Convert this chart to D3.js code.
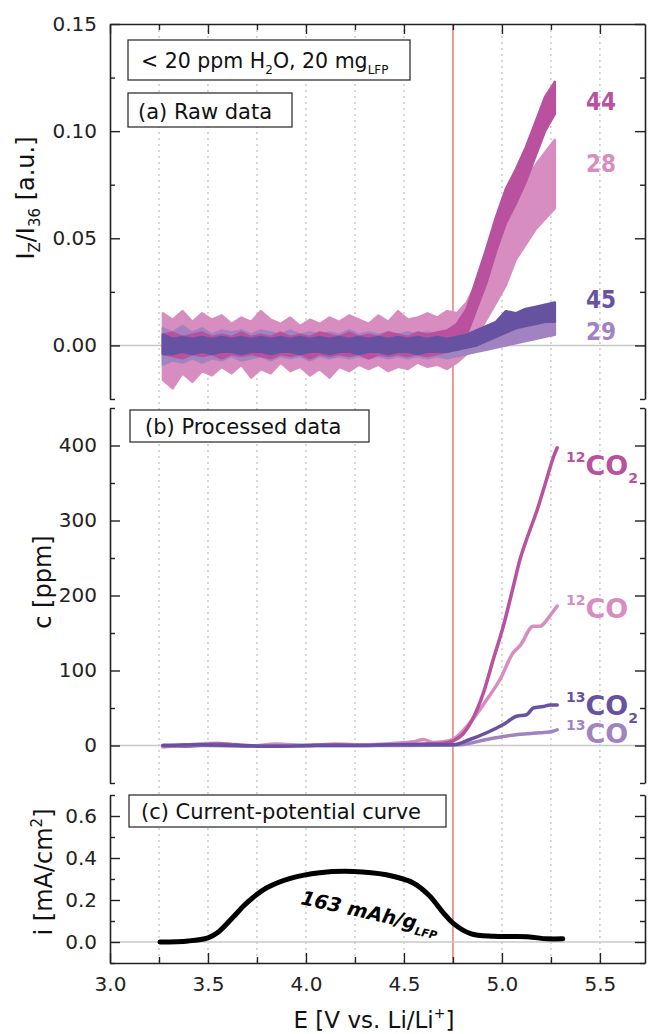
<!DOCTYPE html>
<html>
<head>
<meta charset="utf-8">
<script src="https://cdn.jsdelivr.net/npm/d3@7"></script>
<style>
body { margin: 0; background: #fff; }
svg { display: block; font-family: "DejaVu Sans", sans-serif; }
</style>
</head>
<body>
<div id="chart"></div>
<script>
//potential grid of the raw MS signals (V vs. Li/Li+)
var rawPotential = [3.27, 3.32, 3.37, 3.42, 3.47, 3.52, 3.57, 3.62, 3.67, 3.72, 3.77, 3.82, 3.87, 3.92, 3.97, 4.02, 4.07, 4.12, 4.17, 4.22,
    4.27, 4.32, 4.37, 4.42, 4.47, 4.52, 4.57, 4.62, 4.67, 4.72, 4.77, 4.82, 4.87, 4.92, 4.97, 5.02, 5.07, 5.12, 5.17, 5.22, 5.27];

//raw signal envelopes (upper / lower of the noisy trace), Iz/I36
var raw28Hi = [0.015, 0.012, 0.016, 0.011, 0.015, 0.012, 0.014, 0.010, 0.013, 0.011, 0.016, 0.012, 0.010, 0.013, 0.009, 0.012, 0.010, 0.013, 0.011, 0.014,
    0.012, 0.010, 0.014, 0.011, 0.016, 0.012, 0.013, 0.015, 0.013, 0.016, 0.015, 0.020, 0.029, 0.039, 0.050, 0.066, 0.072, 0.078, 0.084, 0.090, 0.096];
var raw28Lo = [-0.016, -0.020, -0.013, -0.017, -0.012, -0.014, -0.010, -0.013, -0.009, -0.015, -0.011, -0.013, -0.008, -0.012, -0.010, -0.014, -0.011, -0.015, -0.010, -0.012,
    -0.009, -0.011, -0.009, -0.012, -0.010, -0.011, -0.008, -0.010, -0.009, -0.011, -0.008, -0.004, 0.004, 0.012, 0.020, 0.028, 0.040, 0.047, 0.054, 0.059, 0.064];

var raw29Hi = [0.008, 0.006, 0.009, 0.006, 0.008, 0.005, 0.007, 0.006, 0.007, 0.005, 0.007, 0.006, 0.005, 0.007, 0.005, 0.006, 0.005, 0.006, 0.005, 0.007,
    0.005, 0.006, 0.005, 0.006, 0.005, 0.006, 0.005, 0.006, 0.005, 0.005, 0.004, 0.004, 0.005, 0.006, 0.007, 0.008, 0.008, 0.009, 0.010, 0.011, 0.012];
var raw29Lo = [-0.009, -0.007, -0.008, -0.006, -0.008, -0.006, -0.007, -0.005, -0.007, -0.006, -0.005, -0.007, -0.005, -0.006, -0.005, -0.007, -0.005, -0.006, -0.005, -0.006,
    -0.005, -0.006, -0.005, -0.006, -0.005, -0.006, -0.005, -0.006, -0.005, -0.006, -0.005, -0.004, -0.003, -0.002, -0.001, 0.000, 0.001, 0.002, 0.003, 0.004, 0.005];

var raw44Hi = [0.005, 0.006, 0.004, 0.005, 0.006, 0.004, 0.005, 0.004, 0.006, 0.004, 0.005, 0.004, 0.006, 0.004, 0.005, 0.004, 0.006, 0.005, 0.004, 0.006,
    0.004, 0.005, 0.004, 0.006, 0.005, 0.004, 0.006, 0.005, 0.006, 0.007, 0.010, 0.017, 0.031, 0.045, 0.060, 0.073, 0.082, 0.092, 0.104, 0.116, 0.123];
var raw44Lo = [-0.004, -0.005, -0.006, -0.004, -0.005, -0.004, -0.006, -0.004, -0.005, -0.004, -0.005, -0.006, -0.004, -0.005, -0.004, -0.006, -0.004, -0.005, -0.004, -0.005,
    -0.004, -0.006, -0.004, -0.005, -0.004, -0.005, -0.004, -0.005, -0.004, -0.003, -0.001, 0.005, 0.017, 0.029, 0.044, 0.057, 0.066, 0.076, 0.088, 0.100, 0.108];

var raw45Hi = [0.005, 0.003, 0.004, 0.003, 0.004, 0.003, 0.004, 0.003, 0.004, 0.003, 0.004, 0.003, 0.004, 0.003, 0.004, 0.003, 0.004, 0.003, 0.004, 0.003,
    0.004, 0.003, 0.004, 0.003, 0.004, 0.003, 0.004, 0.003, 0.004, 0.003, 0.004, 0.005, 0.007, 0.009, 0.011, 0.016, 0.015, 0.017, 0.018, 0.019, 0.020];
var raw45Lo = [-0.004, -0.004, -0.003, -0.004, -0.003, -0.004, -0.003, -0.003, -0.004, -0.003, -0.003, -0.004, -0.003, -0.003, -0.004, -0.003, -0.003, -0.004, -0.003, -0.003,
    -0.004, -0.003, -0.003, -0.004, -0.003, -0.003, -0.004, -0.003, -0.003, -0.003, -0.002, -0.001, 0.000, 0.002, 0.004, 0.006, 0.008, 0.009, 0.010, 0.011, 0.011];

//processed concentrations (ppm)
var co2_12E = [3.27, 3.40, 3.55, 3.70, 3.85, 4.00, 4.15, 4.30, 4.45, 4.60, 4.70, 4.75, 4.80, 4.85, 4.905, 4.956, 5.007, 5.058, 5.092, 5.126, 5.177, 5.228, 5.262, 5.282];
var co2_12C = [0, -1, 2, 0, -1, 0, 1, 0, 1, 2, 3, 6, 15, 35, 70, 115, 159, 212, 248, 275, 312, 355, 384, 397];
var co_12E = [3.27, 3.40, 3.55, 3.70, 3.85, 4.00, 4.15, 4.30, 4.45, 4.55, 4.60, 4.65, 4.70, 4.75, 4.836, 4.922, 4.99, 5.058, 5.092, 5.16, 5.194, 5.245, 5.282];
var co_12C = [-2, 1, 3, -1, 2, 0, 2, 1, 3, 5, 8, 4, 5, 8, 30, 61, 88, 124, 133, 159, 159, 173, 186];
var co2_13E = [3.27, 3.45, 3.65, 3.85, 4.05, 4.25, 4.45, 4.65, 4.751, 4.836, 4.922, 5.007, 5.075, 5.126, 5.16, 5.211, 5.245, 5.282];
var co2_13C = [0, 1, 0, -1, 0, 0, 1, 1, 1, 8, 17, 28, 39, 41, 50, 52, 54, 54];
var co_13E = [3.27, 3.50, 3.75, 4.00, 4.25, 4.50, 4.785, 4.922, 5.007, 5.092, 5.194, 5.262, 5.282];
var co_13C = [0, 0, -1, 0, 0, 0, 1, 8, 12, 15, 17, 19, 21];

//current-potential curve (mA/cm2)
var currentE = [3.255, 3.40, 3.50, 3.55, 3.63, 3.68, 3.73, 3.80, 3.92, 4.07, 4.24, 4.41, 4.55, 4.63, 4.70, 4.75, 4.84, 4.96, 5.13, 5.23, 5.31];
var currentI = [0.0, 0.005, 0.02, 0.045, 0.12, 0.17, 0.212, 0.258, 0.303, 0.33, 0.336, 0.32, 0.28, 0.22, 0.14, 0.09, 0.04, 0.027, 0.025, 0.015, 0.015];

//tick values
var xMajor = [3.0, 3.5, 4.0, 4.5, 5.0, 5.5];
var xMinor = [3.25, 3.75, 4.25, 4.75, 5.25];
var gridE = [3.25, 3.5, 3.75, 4.0, 4.25, 4.5, 5.0, 5.25, 5.5];
var aMajor = [0, 0.05, 0.10, 0.15];
var aMinor = [-0.025, 0.025, 0.075, 0.125];
var bMajor = [0, 100, 200, 300, 400];
var bMinor = [-50, 50, 150, 250, 350, 450];
var cMajor = [0, 0.2, 0.4, 0.6];
var cMinor = [-0.1, 0.1, 0.3, 0.5, 0.7];

//colours
var cMagenta = "#b9519e";
var cPink = "#d78dc0";
var cPurple = "#6752a2";
var cLilac = "#a283c2";

var svgWidth = 650;
var svgHeight = 1034;

var svg = d3.select("#chart")
    .append("svg")
    .attr("width", svgWidth)
    .attr("height", svgHeight);

//scales
var x = d3.scaleLinear().domain([3.0, 5.73]).range([110, 645]);
var yA = d3.scaleLinear().domain([-0.025, 0.15]).range([399, 24]);
var yB = d3.scaleLinear().domain([-50, 450]).range([783, 408]);
var yC = d3.scaleLinear().domain([-0.1, 0.7]).range([963, 795]);

//dotted vertical grid and red marker line
svg.append("g").selectAll("line")
    .data(gridE)
    .enter()
    .append("line")
    .attr("x1", d => x(d)).attr("x2", d => x(d))
    .attr("y1", 24).attr("y2", 963)
    .attr("stroke", "#b0b0b0")
    .attr("stroke-width", 1)
    .attr("stroke-dasharray", "2,4");

svg.append("line")
    .attr("x1", x(4.75)).attr("x2", x(4.75))
    .attr("y1", 24).attr("y2", 963)
    .attr("stroke", "#e4575a")
    .attr("stroke-width", 1.2);

//zero lines
[yA, yB, yC].forEach(function(y) {
    svg.append("line")
        .attr("x1", 110).attr("x2", 645)
        .attr("y1", y(0)).attr("y2", y(0))
        .attr("stroke", "#c8c8c8")
        .attr("stroke-width", 1.5);
});

//axes helper for one panel
function yAxes(scale, major, minor, fmt) {
    svg.append("g").attr("transform", "translate(110,0)")
        .call(d3.axisLeft(scale).tickValues(major).tickSize(-10).tickSizeOuter(0).tickPadding(13).tickFormat(d3.format(fmt)));
    svg.append("g").attr("transform", "translate(110,0)")
        .call(d3.axisLeft(scale).tickValues(minor).tickSize(-5).tickFormat(""))
        .select(".domain").remove();
    svg.append("g").attr("transform", "translate(645,0)")
        .call(d3.axisRight(scale).tickValues(major).tickSize(-10).tickSizeOuter(0).tickFormat(""));
    svg.append("g").attr("transform", "translate(645,0)")
        .call(d3.axisRight(scale).tickValues(minor).tickSize(-5).tickFormat(""))
        .select(".domain").remove();
}

yAxes(yA, aMajor, aMinor, ".2f");
yAxes(yB, bMajor, bMinor, "d");
yAxes(yC, cMajor, cMinor, ".1f");

//top spine of panel (a)
svg.append("g").attr("transform", "translate(0,24)")
    .call(d3.axisTop(x).tickValues(xMajor).tickSize(-10).tickSizeOuter(0).tickFormat(""));
svg.append("g").attr("transform", "translate(0,24)")
    .call(d3.axisTop(x).tickValues(xMinor).tickSize(-6).tickFormat(""))
    .select(".domain").remove();

//bottom axis of panel (c)
svg.append("g").attr("transform", "translate(0,963)")
    .call(d3.axisBottom(x).tickValues(xMajor).tickSize(-10).tickSizeOuter(0).tickPadding(14).tickFormat(d3.format(".1f")));
svg.append("g").attr("transform", "translate(0,963)")
    .call(d3.axisBottom(x).tickValues(xMinor).tickSize(-6).tickFormat(""))
    .select(".domain").remove();

svg.selectAll(".domain").attr("stroke", "#222").attr("stroke-width", 1.6);
svg.selectAll(".tick line").attr("stroke", "#222").attr("stroke-width", 1.4);
svg.selectAll(".tick text")
    .attr("font-family", "DejaVu Sans")
    .attr("font-size", 20)
    .attr("fill", "#222");

//panel (a): raw noisy signals as bands
var rawArea = function(hi, lo) {
    return d3.area()
        .x((d, i) => x(rawPotential[i]))
        .y0((d, i) => yA(lo[i]))
        .y1((d, i) => yA(hi[i]));
};

var rawSeries = [
    {hi: raw28Hi, lo: raw28Lo, color: cPink},
    {hi: raw29Hi, lo: raw29Lo, color: cLilac},
    {hi: raw44Hi, lo: raw44Lo, color: cMagenta},
    {hi: raw45Hi, lo: raw45Lo, color: cPurple}
];

rawSeries.forEach(function(s) {
    svg.append("path")
        .datum(rawPotential)
        .attr("d", rawArea(s.hi, s.lo))
        .attr("fill", s.color)
        .attr("stroke", s.color)
        .attr("stroke-width", 2.5)
        .attr("stroke-linejoin", "round");
});

//mass labels
var massLabels = [
    {t: "44", y: 110, color: cMagenta},
    {t: "28", y: 172, color: cPink},
    {t: "45", y: 308, color: cPurple},
    {t: "29", y: 340, color: cLilac}
];
svg.append("g").selectAll("text")
    .data(massLabels)
    .enter()
    .append("text")
    .attr("x", 586)
    .attr("y", d => d.y)
    .attr("font-family", "DejaVu Sans Condensed, DejaVu Sans")
    .attr("font-stretch", "condensed")
    .attr("font-weight", "bold")
    .attr("font-size", 24)
    .attr("fill", d => d.color)
    .text(d => d.t);

//panel (b): processed concentrations
var ppmSeries = [
    {e: co_12E, c: co_12C, color: cPink},
    {e: co2_12E, c: co2_12C, color: cMagenta},
    {e: co_13E, c: co_13C, color: cLilac},
    {e: co2_13E, c: co2_13C, color: cPurple}
];
ppmSeries.forEach(function(s) {
    svg.append("path")
        .datum(s.e)
        .attr("d", d3.line().curve(d3.curveMonotoneX).x(d => x(d)).y((d, i) => yB(s.c[i])))
        .attr("fill", "none")
        .attr("stroke", s.color)
        .attr("stroke-width", 3.5)
        .attr("stroke-linejoin", "round")
        .attr("stroke-linecap", "round");
});

var gasLabels = [
    {iso: "12", sub: "2", y: 475, color: cMagenta},
    {iso: "12", sub: "", y: 618, color: cPink},
    {iso: "13", sub: "2", y: 715, color: cPurple},
    {iso: "13", sub: "", y: 743, color: cLilac}
];
gasLabels.forEach(function(g) {
    var t = svg.append("text")
        .attr("x", 566)
        .attr("y", g.y)
        .attr("font-weight", "bold")
        .attr("fill", g.color);
    t.append("tspan").attr("font-size", 14).attr("dy", -13).text(g.iso);
    t.append("tspan").attr("font-size", 27).attr("dy", 13).text("CO");
    if (g.sub) t.append("tspan").attr("font-size", 14).attr("dy", 8).text(g.sub);
});

//panel (c): current-potential curve
svg.append("path")
    .datum(currentE)
    .attr("d", d3.line().curve(d3.curveCatmullRom).x(d => x(d)).y((d, i) => yC(currentI[i])))
    .attr("fill", "none")
    .attr("stroke", "#000")
    .attr("stroke-width", 5)
    .attr("stroke-linecap", "round");

var cap = svg.append("text")
    .attr("transform", "translate(300,904) rotate(12.5)")
    .attr("font-weight", "bold")
    .attr("font-style", "italic")
    .attr("font-size", 19.5)
    .attr("fill", "#000");
cap.append("tspan").text("163 mAh/g");
cap.append("tspan").attr("font-size", 11).attr("dy", 5).text("LFP");

//annotation boxes
function labelBox(x0, y0, w, h) {
    svg.append("rect")
        .attr("x", x0).attr("y", y0)
        .attr("width", w).attr("height", h)
        .attr("fill", "#fff")
        .attr("stroke", "#222")
        .attr("stroke-width", 1.2);
}

labelBox(128, 40, 282, 40);
var t1 = svg.append("text").attr("x", 141).attr("y", 68).attr("font-size", 20.5).attr("fill", "#111");
t1.append("tspan").text("< 20 ppm H");
t1.append("tspan").attr("font-size", 12).attr("dy", 6).text("2");
t1.append("tspan").attr("dy", -6).text("O, 20 mg");
t1.append("tspan").attr("font-size", 12).attr("dy", 6).text("LFP");

labelBox(128, 93, 164, 34);
svg.append("text").attr("x", 138).attr("y", 119).attr("font-size", 21).attr("fill", "#111").text("(a) Raw data");

labelBox(130, 410, 239, 32);
svg.append("text").attr("x", 145).attr("y", 434).attr("font-size", 21).attr("fill", "#111").text("(b) Processed data");

labelBox(129, 795, 317, 32);
svg.append("text").attr("x", 141).attr("y", 819).attr("font-size", 21).attr("fill", "#111").text("(c) Current-potential curve");

//axis titles
var ta = svg.append("text")
    .attr("transform", "translate(34,198) rotate(-90)")
    .attr("text-anchor", "middle")
    .attr("font-size", 24)
    .attr("fill", "#111");
ta.append("tspan").text("I");
ta.append("tspan").attr("font-size", 15).attr("dy", 6).text("Z");
ta.append("tspan").attr("dy", -6).text("/I");
ta.append("tspan").attr("font-size", 15).attr("dy", 6).text("36");
ta.append("tspan").attr("dy", -6).text(" [a.u.]");

svg.append("text")
    .attr("transform", "translate(51,582) rotate(-90)")
    .attr("text-anchor", "middle")
    .attr("font-size", 24)
    .attr("fill", "#111")
    .text("c [ppm]");

var tc = svg.append("text")
    .attr("transform", "translate(52,872) rotate(-90)")
    .attr("text-anchor", "middle")
    .attr("font-size", 24)
    .attr("fill", "#111");
tc.append("tspan").text("i [mA/cm");
tc.append("tspan").attr("font-size", 15).attr("dy", -10).text("2");
tc.append("tspan").attr("dy", 10).text("]");

var tx = svg.append("text")
    .attr("x", 374)
    .attr("y", 1028)
    .attr("text-anchor", "middle")
    .attr("font-size", 23)
    .attr("fill", "#111");
tx.append("tspan").text("E [V vs. Li/Li");
tx.append("tspan").attr("font-size", 14).attr("dy", -10).text("+");
tx.append("tspan").attr("dy", 10).text("]");
</script>
</body>
</html>
